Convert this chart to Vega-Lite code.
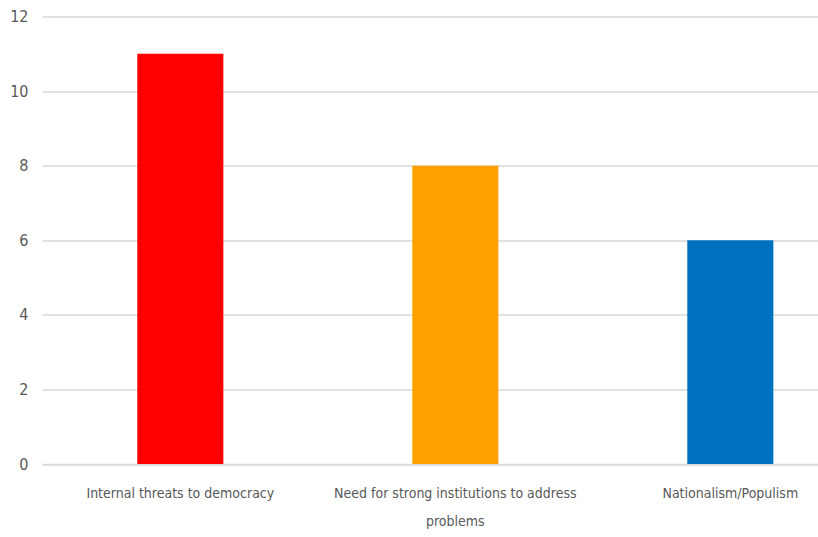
{
  "$schema": "https://vega.github.io/schema/vega-lite/v6.json",
  "autosize": "none",
  "padding": {"left": 42, "top": 16.5, "right": 0, "bottom": 73},
  "width": 776,
  "height": 447.5,
  "background": "white",
  "config": {"view": {"stroke": null}},
  "data": {
    "values": [
      {"category": "Internal threats to democracy", "value": 11, "color": "red"},
      {"category": "Need for strong institutions to address problems", "value": 8, "color": "orange"},
      {"category": "Nationalism/Populism", "value": 6, "color": "blue"}
    ]
  },
  "mark": {"type": "bar", "clip": false},
  "encoding": {
    "x": {
      "field": "category",
      "type": "nominal",
      "sort": null,
      "scale": {"paddingInner": 0.687, "paddingOuter": 0.2544, "align": 0.681},
      "axis": {
        "title": null,
        "labelAngle": 0,
        "domainColor": "#d9d9d9",
        "domainWidth": 1.5,
        "ticks": false,
        "labelPadding": 22,
        "labelFont": "DejaVu Sans Condensed, Liberation Sans, sans-serif",
        "labelFontSize": 14,
        "labelColor": "#595959",
        "labelLineHeight": 28,
        "labelLimit": 400,
        "labelExpr": "datum.label == 'Need for strong institutions to address problems' ? ['Need for strong institutions to address', 'problems'] : datum.label"
      }
    },
    "y": {
      "field": "value",
      "type": "quantitative",
      "scale": {"domain": [0, 12], "nice": false},
      "axis": {
        "title": null,
        "values": [0, 2, 4, 6, 8, 10, 12],
        "domain": false,
        "ticks": false,
        "grid": true,
        "gridColor": "#d9d9d9",
        "gridWidth": 1.5,
        "labelPadding": 14,
        "labelFont": "DejaVu Sans Condensed, Liberation Sans, sans-serif",
        "labelFontSize": 16,
        "labelColor": "#595959"
      }
    },
    "color": {
      "field": "color",
      "type": "nominal",
      "scale": {"domain": ["red", "orange", "blue"], "range": ["#FF0000", "#FFA000", "#0070C0"]},
      "legend": null
    }
  }
}
